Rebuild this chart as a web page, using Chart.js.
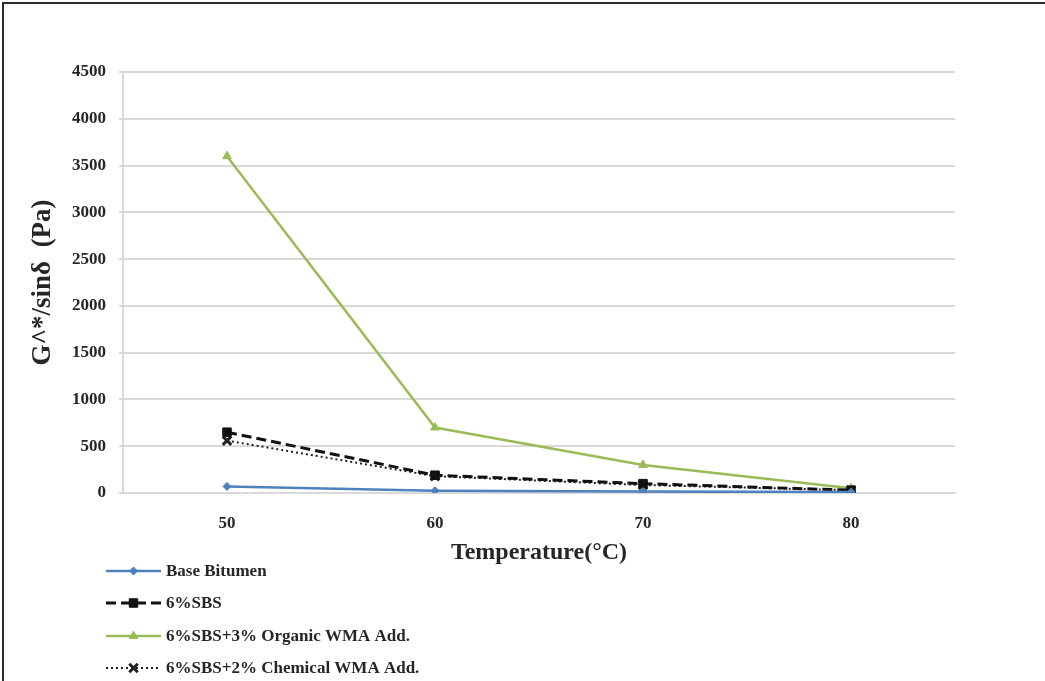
<!DOCTYPE html>
<html>
<head>
<meta charset="utf-8">
<script src="https://cdn.jsdelivr.net/npm/chart.js@4/dist/chart.umd.min.js"></script>
<style>
  html, body { margin: 0; padding: 0; background: #ffffff; overflow: hidden; }
  #wrap { position: relative; width: 1045px; height: 681px; overflow: hidden; }
  .edge { position: absolute; background: #2b2b2b; pointer-events: none; }
  #edgeTop { left: 2px; top: 2px; width: 1043px; height: 2px; }
  #edgeLeft { left: 2px; top: 2px; width: 2px; height: 679px; }
  canvas { position: absolute; left: 0; top: 0; }
</style>
</head>
<body>
<div id="wrap">
  <canvas id="c" width="1045" height="681"></canvas>
  <div class="edge" id="edgeTop"></div>
  <div class="edge" id="edgeLeft"></div>
</div>
<script>
// Test temperatures (°C)
const temperatures = ['50', '60', '70', '80'];

// G*/sinδ (Pa) for each binder
const baseBitumen = [70, 25, 15, 10];
const sbs6 = [650, 190, 100, 30];
const sbsOrganic = [3600, 700, 300, 50];
const sbsChemical = [560, 180, 85, 30];

const seriesNames = [
  'Base Bitumen',
  '6%SBS',
  '6%SBS+3% Organic WMA Add.',
  '6%SBS+2% Chemical WMA Add.'
];

const yTicks = { min: 0, max: 4500, step: 500 };

const SERIF = '"Liberation Serif", "Times New Roman", serif';
const TEXT = '#262626';

// Vertical legend under the plot: line sample with its marker, then the name
const sideLegend = {
  id: 'sideLegend',
  afterDraw(chart) {
    const ctx = chart.ctx;
    const rows = [571, 603, 636, 668];
    const x0 = 106, x1 = 161, tx = 166;
    chart.data.datasets.forEach((ds, i) => {
      const y = rows[i];
      ctx.save();
      ctx.strokeStyle = ds.borderColor;
      ctx.lineWidth = ds.borderWidth;
      ctx.setLineDash(ds.borderDash || []);
      ctx.beginPath();
      ctx.moveTo(x0, y);
      ctx.lineTo(x1, y);
      ctx.stroke();
      ctx.setLineDash([]);
      ctx.fillStyle = ds.pointBackgroundColor;
      ctx.strokeStyle = ds.pointBorderColor;
      ctx.lineWidth = ds.pointBorderWidth;
      Chart.helpers.drawPoint(ctx, {
        pointStyle: ds.pointStyle,
        radius: ds.pointRadius,
        rotation: ds.pointRotation || 0,
        borderWidth: ds.pointBorderWidth
      }, (x0 + x1) / 2, y);
      ctx.fillStyle = TEXT;
      ctx.font = 'bold 17px ' + SERIF;
      ctx.textBaseline = 'middle';
      ctx.textAlign = 'left';
      ctx.fillText(ds.label, tx, y + 1);
      ctx.restore();
    });
  }
};

new Chart(document.getElementById('c'), {
  type: 'line',
  data: {
    labels: temperatures,
    datasets: [
      {
        label: seriesNames[0], data: baseBitumen,
        borderColor: '#4f81bd', backgroundColor: '#4f81bd', borderWidth: 2.5,
        pointStyle: 'rectRot', pointRadius: 4, pointBackgroundColor: '#4f81bd',
        pointBorderColor: '#4f81bd', pointBorderWidth: 1
      },
      {
        label: seriesNames[1], data: sbs6,
        borderColor: '#111111', backgroundColor: '#111111', borderWidth: 3, borderDash: [10, 5],
        pointStyle: 'rect', pointRadius: 6, pointBackgroundColor: '#111111',
        pointBorderColor: '#111111', pointBorderWidth: 1
      },
      {
        label: seriesNames[2], data: sbsOrganic,
        borderColor: '#9bbb59', backgroundColor: '#9bbb59', borderWidth: 2.5,
        pointStyle: 'triangle', pointRadius: 5, pointBackgroundColor: '#9bbb59',
        pointBorderColor: '#9bbb59', pointBorderWidth: 1
      },
      {
        label: seriesNames[3], data: sbsChemical,
        borderColor: '#222222', backgroundColor: '#222222', borderWidth: 2, borderDash: [2, 3],
        pointStyle: 'crossRot', pointRadius: 6, pointBackgroundColor: '#222222',
        pointBorderColor: '#222222', pointBorderWidth: 3
      }
    ]
  },
  options: {
    responsive: false,
    animation: false,
    layout: { padding: { left: 0, top: 72, right: 90, bottom: 108 } },
    plugins: { legend: { display: false }, tooltip: { enabled: false } },
    scales: {
      x: {
        offset: true,
        grid: { display: false, drawTicks: false, offset: true },
        border: { display: true, color: '#d9d9d9', width: 2 },
        ticks: { padding: 20, color: TEXT, font: { family: SERIF, size: 17, weight: 'bold' } },
        title: {
          display: true, text: 'Temperature(°C)', color: TEXT,
          font: { family: SERIF, size: 24, weight: 'bold' }, padding: { top: 0, bottom: 6 }
        },
        afterFit(scale) { scale.height = 80; }
      },
      y: {
        min: yTicks.min, max: yTicks.max,
        grid: { color: '#d9d9d9', lineWidth: 2, tickLength: 4 },
        border: { display: true, color: '#d9d9d9', width: 2 },
        ticks: {
          stepSize: yTicks.step, padding: 13, color: TEXT,
          font: { family: SERIF, size: 17, weight: 'bold' },
          callback: (v) => String(v)
        },
        title: {
          display: true, text: 'G^*/sinδ  (Pa)', color: TEXT,
          font: { family: SERIF, size: 27, weight: 'bold' }, padding: { top: 27, bottom: 0 }
        },
        afterFit(scale) { scale.width = 123; }
      }
    }
  },
  plugins: [sideLegend]
});
</script>
</body>
</html>
